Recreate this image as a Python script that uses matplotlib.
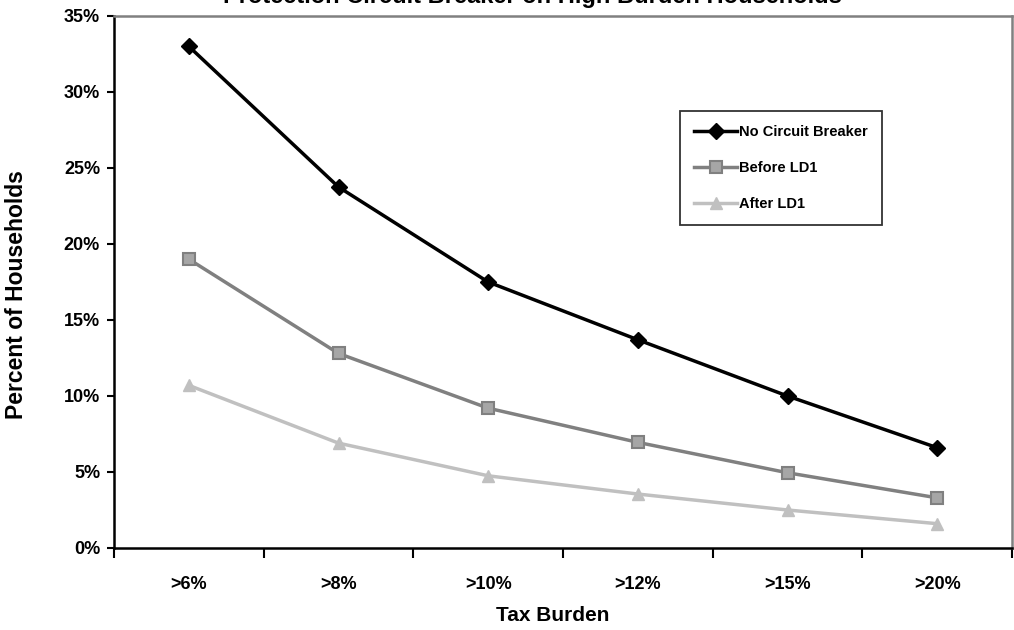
"""Share of households above each tax-burden threshold, with and without the circuit breaker."""
import matplotlib.pyplot as plt
from matplotlib.ticker import FixedLocator, PercentFormatter

plt.rcParams["font.family"] = ["Liberation Sans", "DejaVu Sans"]
plt.rcParams["font.weight"] = "bold"

thresholds = [">6%", ">8%", ">10%", ">12%", ">15%", ">20%"]
no_breaker = [33.0, 23.75, 17.5, 13.7, 10.0, 6.6]
before_ld1 = [19.0, 12.8, 9.2, 6.95, 4.95, 3.3]
after_ld1 = [10.7, 6.9, 4.75, 3.55, 2.5, 1.6]

fig = plt.figure(figsize=(10.14, 6.3), dpi=100)
ax = fig.add_axes([114 / 1014, 1 - 548 / 630, 898 / 1014, 532 / 630])

x = list(range(len(thresholds)))
ax.plot(x, no_breaker, color="black", lw=2.5, marker="D", ms=8.5,
        mfc="black", mec="black", label="No Circuit Breaker", zorder=3)
ax.plot(x, before_ld1, color="#808080", lw=2.5, marker="s", ms=8.5,
        mfc="#a6a6a6", mec="#808080", mew=1.5, label="Before LD1", zorder=3)
ax.plot(x, after_ld1, color="#c0c0c0", lw=2.5, marker="^", ms=9,
        mfc="#c0c0c0", mec="#c0c0c0", label="After LD1", zorder=3)

ax.set_xlim(-0.5, len(thresholds) - 0.5)
ax.set_ylim(0, 35)
ax.set_yticks(range(0, 36, 5))
ax.yaxis.set_major_formatter(PercentFormatter(decimals=0))
ax.tick_params(axis="y", direction="out", length=5, width=1.5, pad=5, labelsize=13)

# labels sit between the tick marks, which fall on category boundaries
ax.set_xticks(x)
ax.set_xticklabels(thresholds)
ax.xaxis.set_minor_locator(FixedLocator([i - 0.5 for i in range(len(thresholds) + 1)]))
ax.tick_params(axis="x", which="major", length=0, pad=20, labelsize=13)
ax.tick_params(axis="x", which="minor", direction="out", length=7, width=1.5)

for side in ("left", "bottom"):
    ax.spines[side].set_color("black")
    ax.spines[side].set_linewidth(1.8)
for side in ("top", "right"):
    ax.spines[side].set_color("#808080")
    ax.spines[side].set_linewidth(1.8)

ax.set_xlabel("Tax Burden", fontsize=15, fontweight="bold")
ax.xaxis.set_label_coords((553 - 114) / 898, -(606 - 548) / 532)
ax.set_ylabel("Percent of Households", fontsize=16.5, fontweight="bold")
ax.yaxis.set_label_coords(-(114 - 28) / 898, (548 - 295) / 532)

fig.text(0.525, 1 - 3 / 630, "Protection Circuit Breaker on High Burden Households",
         ha="center", va="baseline", fontsize=17, fontweight="bold")

leg = ax.legend(loc="center", bbox_to_anchor=((781 - 114) / 898, (548 - 168) / 532),
                frameon=True, fancybox=False, fontsize=10.5, handlelength=2.9,
                handletextpad=0.15, labelspacing=1.5, borderpad=1.0,
                borderaxespad=0)
leg.get_frame().set_edgecolor("black")
leg.get_frame().set_linewidth(1.3)
for t in leg.get_texts():
    t.set_fontweight("bold")

fig.savefig("out.png", dpi=100)
